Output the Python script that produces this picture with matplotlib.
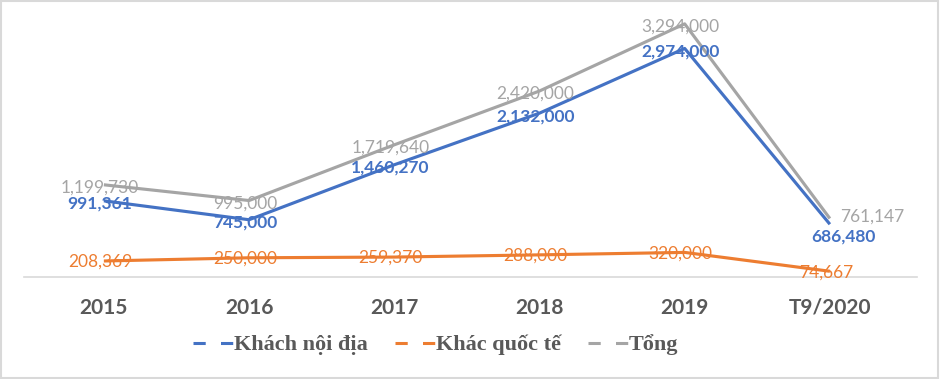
import matplotlib.pyplot as plt
from matplotlib.lines import Line2D
from matplotlib.patches import Rectangle

# data
years    = ['2015', '2016', '2017', '2018', '2019', 'T9/2020']
noi_dia  = [991361, 745000, 1460270, 2132000, 2974000, 686480]
quoc_te  = [208369, 250000, 259370, 288000, 320000, 74667]
tong     = [1199730, 995000, 1719640, 2420000, 3294000, 761147]

c_blue   = '#4472C4'
c_orange = '#ED7D31'
c_gray   = '#A5A5A5'
c_text   = '#595959'

def fmt(v):
	return '{:,}'.format(v)

def main():
	fig = plt.figure(figsize=(9.41, 3.79), dpi=100)
	ax  = fig.add_axes([24/941, 1-277/379, 893/941, 269/379])
	x   = list(range(len(years)))

	ax.plot(x, tong, color=c_gray, lw=2.25, solid_capstyle='butt')
	ax.plot(x, noi_dia, color=c_blue, lw=2.25, solid_capstyle='butt')
	ax.plot(x, quoc_te, color=c_orange, lw=2.25, solid_capstyle='butt')

	# data labels
	fs   = 12.5
	last = len(years) - 1
	for i in x:
		if i == last:
			ax.annotate(fmt(tong[i]), (i, tong[i]), xytext=(10, 2), textcoords='offset pixels',
				ha='left', va='center', color=c_gray, fontsize=fs, family='Lato')
			ax.annotate(fmt(noi_dia[i]), (i, noi_dia[i]), xytext=(14, -12), textcoords='offset pixels',
				ha='center', va='center', color=c_blue, fontsize=fs, family='Lato', weight='bold')
		else:
			ax.annotate(fmt(tong[i]), (i, tong[i]), xytext=(-4, -3), textcoords='offset pixels',
				ha='center', va='center', color=c_gray, fontsize=fs, family='Lato')
			ax.annotate(fmt(noi_dia[i]), (i, noi_dia[i]), xytext=(-4, -3), textcoords='offset pixels',
				ha='center', va='center', color=c_blue, fontsize=fs, family='Lato', weight='bold')
		ax.annotate(fmt(quoc_te[i]), (i, quoc_te[i]), xytext=(-4, -1), textcoords='offset pixels',
			ha='center', va='center', color=c_orange, fontsize=fs, family='Lato')

	ax.set_xlim(-0.55, 5.6)
	ax.set_ylim(0, 3.5e6)
	ax.set_xticks(x)
	ax.set_xticklabels(years, fontsize=15, family='Lato', weight='bold', color=c_text)
	ax.tick_params(axis='x', length=0, pad=15)
	ax.set_yticks([])
	for s in ['top', 'right', 'left']:
		ax.spines[s].set_visible(False)
	ax.spines['bottom'].set_color('#D9D9D9')
	ax.spines['bottom'].set_linewidth(1.2)

	# legend
	handles = [Line2D([], [], color=c, lw=2.2, dashes=(4, 5), dash_capstyle='butt')
		for c in [c_blue, c_orange, c_gray]]
	labels  = ['Khách nội địa', 'Khác quốc tế', 'Tổng']
	fig.legend(handles, labels, loc='center', bbox_to_anchor=(0.463, 0.09), ncol=3,
		frameon=False, handlelength=1.8, handletextpad=0.05, columnspacing=1.2,
		prop={'family': 'Liberation Serif', 'weight': 'bold', 'size': 16},
		labelcolor=c_text)

	# chart border
	fig.patches.append(Rectangle((0.001, 0.002), 0.996, 0.995, transform=fig.transFigure,
		fill=False, edgecolor='#D9D9D9', lw=1.5))

	fig.savefig('out.png', dpi=100)
	return 0

if __name__ == "__main__":
	main()
